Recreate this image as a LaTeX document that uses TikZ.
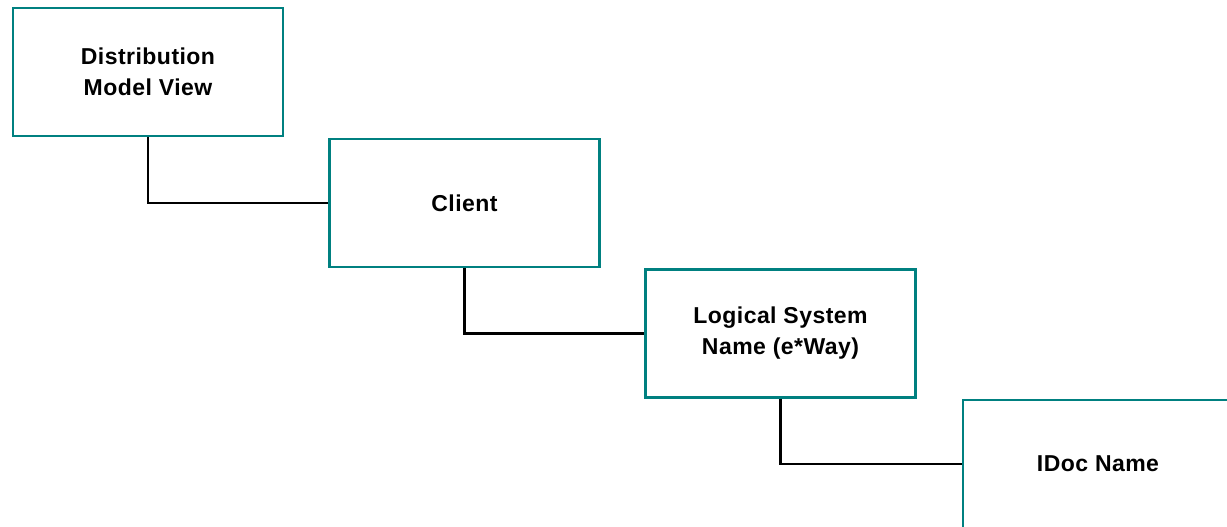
\documentclass[tikz,border=0pt]{standalone}
\usepackage{fontspec}
\setmainfont{Liberation Sans}[LetterSpace=2]
\usepackage{xcolor}
\definecolor{teal0}{RGB}{0,128,128}

\begin{document}
\begin{tikzpicture}[x=1pt,y=-1pt,font=\fontsize{23}{31}\selectfont\bfseries]
    \tikzset{b/.style={draw=teal0,line width=2.4pt,fill=white,align=center,minimum width=270pt,minimum height=128pt,inner sep=4pt},
             ln/.style={line width=2.4pt,black}}
    \useasboundingbox (0,0) rectangle (1227,527);
    \clip (0,0) rectangle (1227,527);
    \node[b] (dmv) at (148,72) {Distribution\\Model View};
    \node[b] (cl) at (464.5,203) {Client};
    \node[b] (ls) at (780.5,333.5) {Logical System\\Name (e*Way)};
    \node[b] (idoc) at (1098,464) {IDoc Name};
    \draw[ln] (dmv.south) |- (cl.west);
    \draw[ln] (cl.south) |- (ls.west);
    \draw[ln] (ls.south) |- (idoc.west);
  \end{tikzpicture}
\end{document}
